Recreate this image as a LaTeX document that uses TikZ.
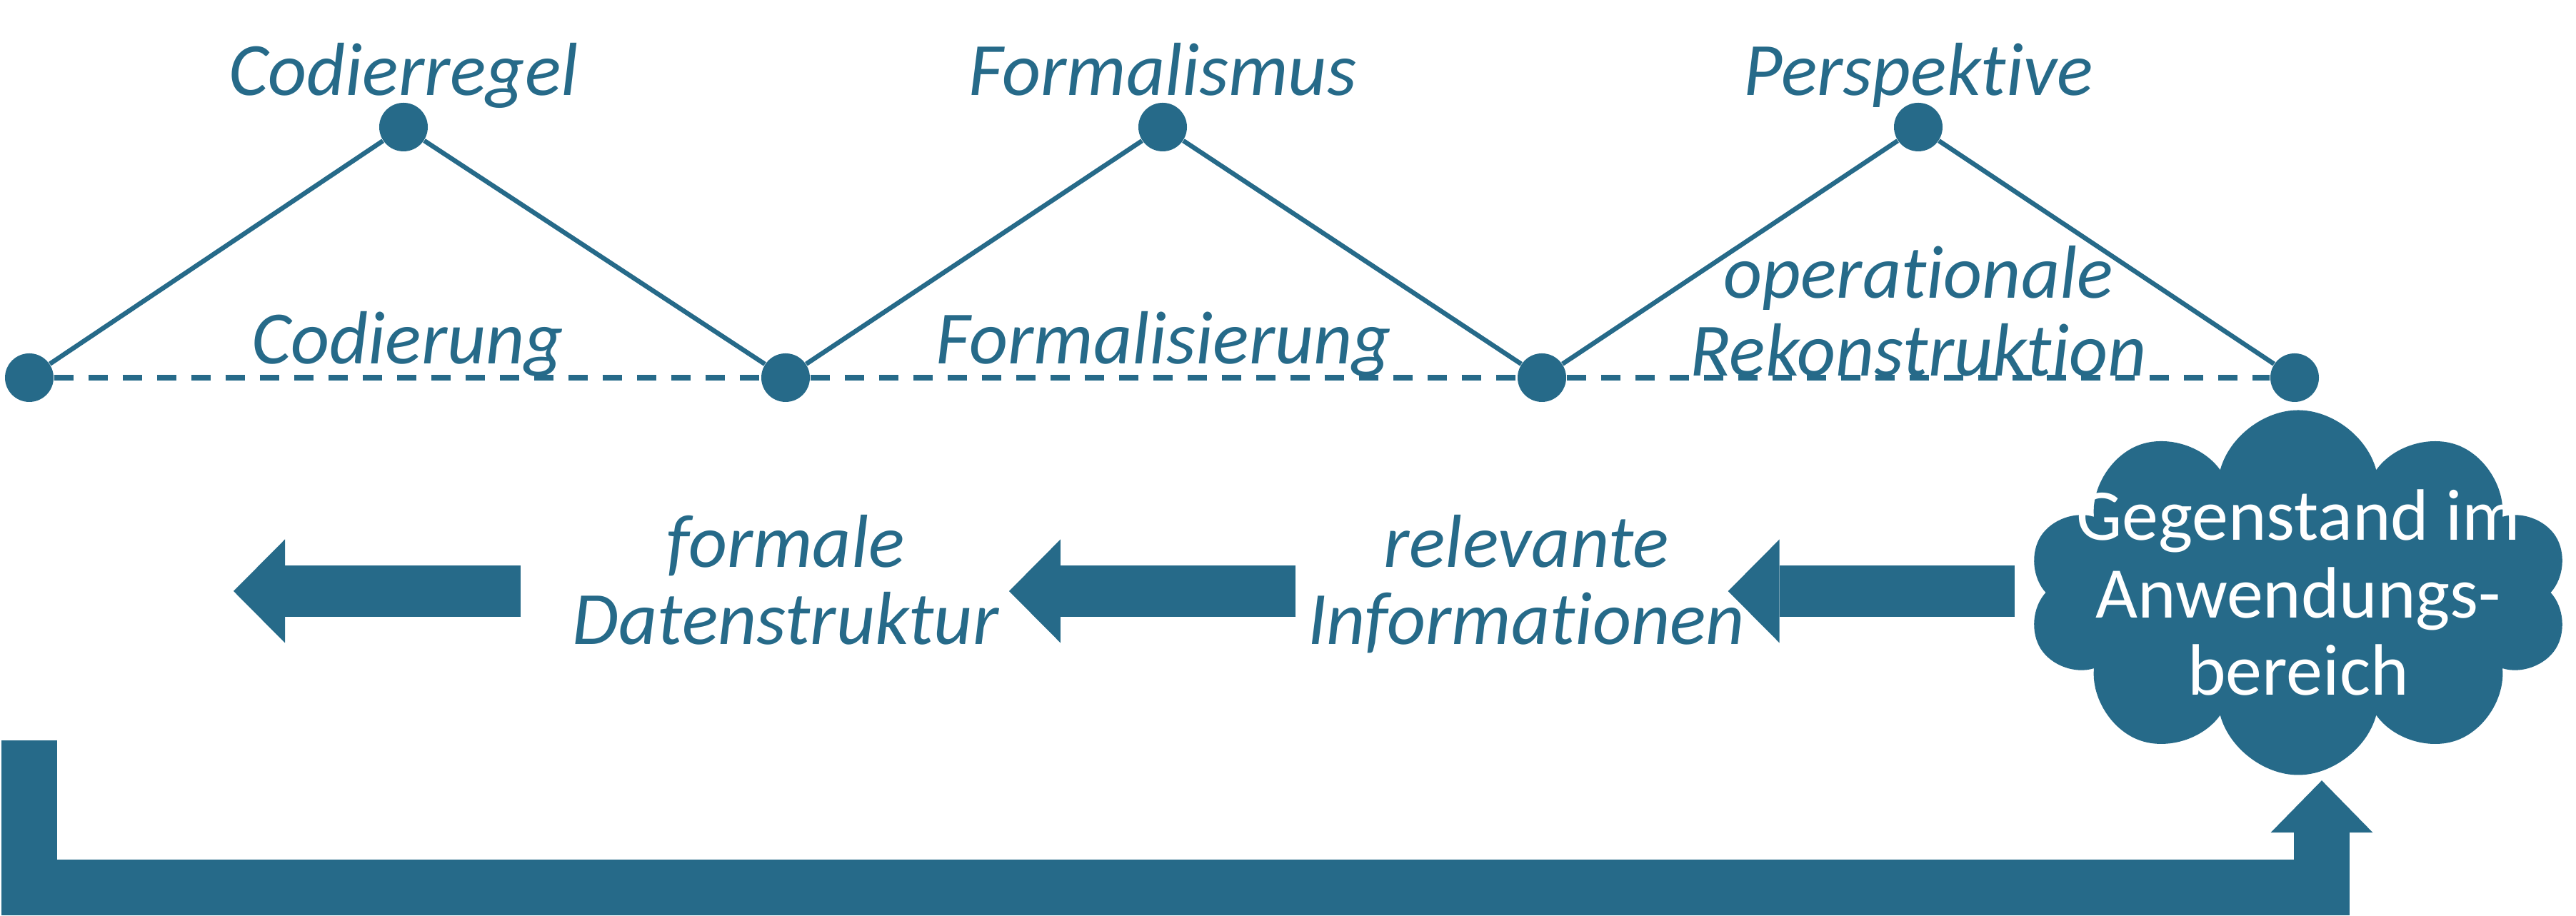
\documentclass[tikz,border=0pt]{standalone}
\usepackage{fontspec}
\setmainfont{Carlito}[Ligatures=NoCommon]
\usetikzlibrary{arrows.meta, positioning, shapes.symbols, calc}
\definecolor{cteal}{HTML}{266A89}
\tikzset{
  every picture/.style={font=\fontsize{30}{31}\selectfont},
  dot/.style={circle, fill=cteal, inner sep=0pt, minimum size=0.68cm},
  lbl/.style={font=\fontsize{30}{31}\selectfont\itshape, text=cteal, inner sep=0pt, align=center, text depth=0.25em},
  link/.style={draw=cteal, line width=0.065cm},
  dashlink/.style={draw=cteal, line width=0.075cm, dash pattern=on 0.27cm off 0.21cm},
  blockarrow/.style={draw=cteal, line width=0.72cm, -{Triangle[length=0.72cm, width=1.45cm, line width=0pt]}},
}
\begin{document}
\begin{tikzpicture}[
  bigarrow/.style={draw=cteal, line width=0.78cm, line join=miter, -{Triangle[length=0.73cm, width=1.43cm, line width=0pt]}}]
  \useasboundingbox (0,0) rectangle (36.07,12.83);
  % the zigzag
  \foreach \n/\x in {b1/0.41, b2/11.00, b3/21.59, b4/32.13}
    \node[dot] (\n) at (\x,7.54) {};
  \foreach \n/\x in {t1/5.65, t2/16.28, t3/26.86}
    \node[dot] (\n) at (\x,11.05) {};
  \foreach \a/\b in {b1/t1, t1/b2, b2/t2, t2/b3, b3/t3, t3/b4}
    \draw[link] (\a) -- (\b);
  \draw[dashlink] (b1) -- node[lbl, above=0.065cm] (codierung) {Codierung} (b2);
  \draw[dashlink] (b2) -- node[lbl, above=0.065cm] (formalisierung) {Formalisierung} (b3);
  \draw[dashlink] (b3) -- node[lbl, above=-0.105cm] (rekonstruktion) {operationale\\Rekonstruktion} (b4);
  \node[lbl, above=0cm of t1] (codierregel) {Codierregel};
  \node[lbl, above=0cm of t2] (formalismus) {Formalismus};
  \node[lbl, above=0cm of t3] (perspektive) {Perspektive};
  % lower row
  \node[cloud, cloud puffs=10, cloud ignores aspect, fill=cteal, inner sep=0pt,
    minimum width=7.58cm, minimum height=5.11cm,
    label={[text=white, align=center, inner sep=0pt, font=\fontsize{29}{31}\selectfont]center:Gegenstand im\\Anwendungs-\\bereich}] (gegenstand) at (32.18,4.53) {};
  \node[lbl, anchor=south] (relinfo) at (21.37,3.705) {relevante\\Informationen};
  \node[lbl, anchor=south] (formale) at (11.00,3.705) {formale\\Datenstruktur};
  \coordinate (row) at (0,4.55);
  \coordinate (out) at (3.27,4.55);
  \foreach \a/\b/\s/\e in {gegenstand/relinfo/0.43/-0.24, relinfo/formale/0.16/0.14}
    \draw[blockarrow, shorten <=\s cm, shorten >=\e cm] (\a.west |- row) -- (\b.east |- row);
  \draw[blockarrow, shorten <=0.72cm] (formale.west |- row) -- (out);
  % way back to the object
  \coordinate (lstart) at (0.41,2.46);
  \coordinate (lcorner) at (0.41,0.40);
  \draw[bigarrow, shorten >=0.07cm] (lstart) -- (lcorner) -| ([xshift=0.33cm]gegenstand.south);
\end{tikzpicture}
\end{document}
